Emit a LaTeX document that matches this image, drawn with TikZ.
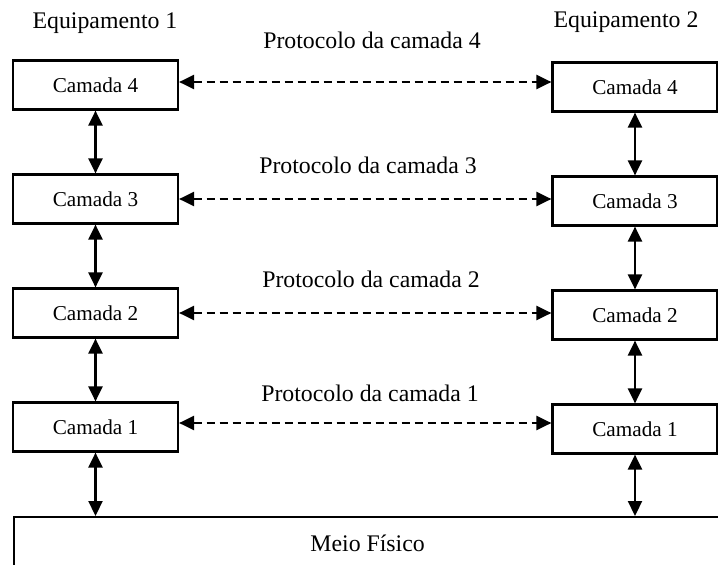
\documentclass[tikz,border=0pt]{standalone}
\usepackage{fontspec}
\setmainfont{Liberation Serif}
\usetikzlibrary{arrows.meta}
\begin{document}
\begin{tikzpicture}[x=1pt,y=-1pt,
  layer/.style={draw, line width=2.2pt, minimum width=165pt, minimum height=49pt,
    inner sep=0pt, font=\fontsize{21.2}{25}\selectfont},
  lbl/.style={anchor=base, inner sep=0pt, font=\fontsize{23.8}{28}\selectfont},
  link/.style={line width=2.2pt,
    {Triangle[length=15pt,width=14pt]}-{Triangle[length=15pt,width=14pt]}},
  peer/.style={link, dash pattern=on 8pt off 5pt}]
\useasboundingbox (0,0) rectangle (718,565);

% equipment titles
\node[lbl] (E1) at (105,28) {Equipamento 1};
\node[lbl] (E2) at (626,27) {Equipamento 2};

% layer stacks
\node[layer] (L4) at (95.5,85)  {Camada 4};
\node[layer] (L3) at (95.5,199) {Camada 3};
\node[layer] (L2) at (95.5,313) {Camada 2};
\node[layer] (L1) at (95.5,427) {Camada 1};

\node[layer] (R4) at (635,87)  {Camada 4};
\node[layer] (R3) at (635,201) {Camada 3};
\node[layer] (R2) at (635,315) {Camada 2};
\node[layer] (R1) at (635,429) {Camada 1};

% physical medium
\node[draw, line width=2.2pt, minimum width=707pt, minimum height=52pt,
  inner sep=0pt, anchor=north west, font=\fontsize{23.8}{28}\selectfont]
  (M) at (13,516) {Meio Físico};

% protocol labels
\node[lbl] (P4) at (372,48)  {Protocolo da camada 4};
\node[lbl] (P3) at (368,173) {Protocolo da camada 3};
\node[lbl] (P2) at (371,287) {Protocolo da camada 2};
\node[lbl] (P1) at (370,401) {Protocolo da camada 1};

% peer-to-peer protocol links
\draw[peer] (L4.east |- 0,82)  -- (R4.west |- 0,82);
\draw[peer] (L3.east |- 0,199) -- (R3.west |- 0,199);
\draw[peer] (L2.east |- 0,313) -- (R2.west |- 0,313);
\draw[peer] (L1.east |- 0,423) -- (R1.west |- 0,423);

% vertical interfaces
\draw[link] (L4.south) -- (L3.north);
\draw[link] (L3.south) -- (L2.north);
\draw[link] (L2.south) -- (L1.north);
\draw[link] (L1.south) -- (L1.south |- M.north);

\draw[link] (R4.south) -- (R3.north);
\draw[link] (R3.south) -- (R2.north);
\draw[link] (R2.south) -- (R1.north);
\draw[link] (R1.south) -- (R1.south |- M.north);
\end{tikzpicture}
\end{document}
